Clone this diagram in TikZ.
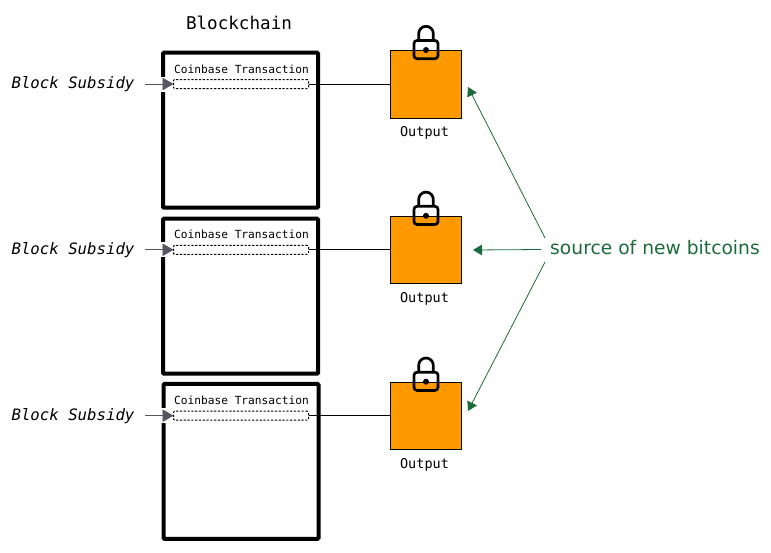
\documentclass[tikz,border=0pt]{standalone}
\usepackage{fontspec}
\setmainfont{DejaVu Sans}
\newfontfamily\monof{DejaVu Sans Mono}
\usetikzlibrary{arrows.meta}
\definecolor{srcgreen}{HTML}{1B6B3A}
\definecolor{outorange}{HTML}{FF9900}
\definecolor{tipgrey}{HTML}{555560}
\tikzset{
  x=1pt,y=-1pt,
  blockbox/.style={draw=black,line width=4pt,outer sep=0pt,rounded corners=1pt,minimum width=155pt,minimum height=155pt,inner sep=0pt,anchor=north west},
  txbox/.style={draw=black,line width=1pt,outer sep=0pt,dash pattern=on 2.2pt off 1.6pt,rounded corners=1pt,fill=white,minimum width=135pt,minimum height=9pt,inner sep=0pt,anchor=west},
  outbox/.style={draw=black,line width=1pt,outer sep=0pt,fill=outorange,minimum width=71pt,minimum height=67.5pt,inner sep=0pt,anchor=north west},
  captext/.style={inner sep=0pt,font=\monof\fontsize{11.2}{12}\selectfont},
  outlabel/.style={inner sep=0pt,font=\monof\fontsize{13.5}{14}\selectfont},
  subsidy/.style={inner sep=0pt,font=\monof\itshape\fontsize{15.7}{17}\selectfont},
  feed/.style={draw=tipgrey,line width=0.9pt,-{Triangle[length=11pt,width=12.5pt,fill=tipgrey]}},
  link/.style={draw=black,line width=1pt},
  srcarrow/.style={draw=srcgreen,line width=0.8pt,-{Triangle[length=9pt,width=10.5pt,fill=srcgreen]}},
  lockpart/.style={draw=black,line width=2.7pt},
}
\newcommand{\lockat}[2]{%
  \draw[lockpart] (#1-7.3,#2-10) -- (#1-7.3,#2-16.4) arc[start angle=180,end angle=0,x radius=7.3,y radius=-7.3] -- (#1+7.3,#2-10);
  \draw[lockpart,rounded corners=3pt] (#1-12,#2-9.5) rectangle (#1+12,#2+8.7);
  \fill[black] (#1,#2) circle[radius=3];
}
\begin{document}
\begin{tikzpicture}
\useasboundingbox (0,0) rectangle (771,552);
\node[inner sep=0pt,font=\monof\fontsize{17.6}{19}\selectfont] (title) at (239,23) {Blockchain};
\foreach \n/\y/\bx/\by in {a/0/163/52.7,b/165.8/163/218.7,c/331.7/163.5/383.9}{
  \node[blockbox] (block\n) at (\bx,\by) {};
  \node[captext] (cap\n) at (241.5,{69+\y}) {Coinbase Transaction};
  \fill[white] (\bx-3,{76.5+\y}) rectangle (\bx+3,{91.5+\y});
  \node[txbox] (tx\n) at (173.5,{84+\y}) {};
  \node[outbox] (out\n) at (390.5,{50.5+\y}) {};
  \node[outlabel] (lab\n) at (424.5,{133+\y}) {Output};
  \node[subsidy] (sub\n) at (73,{84+\y}) {Block Subsidy};
  \coordinate (in\n) at (145,{84+\y});
  \draw[feed] (in\n) -- (tx\n.west);
  \draw[link] (tx\n.east) -- (out\n.west |- tx\n.east);
  \lockat{426}{50+\y}
}
\node[inner sep=0pt,text=srcgreen,font=\fontsize{18.7}{21}\selectfont] (src) at (655,248) {source of new bitcoins};
\coordinate (sa) at (545,238);
\coordinate (sb) at (541,249.5);
\coordinate (sc) at (545,262);
\coordinate (ta) at (468,87);
\coordinate (tb) at (473,250);
\coordinate (tc) at (468,411);
\draw[srcarrow] (sa) -- (ta);
\draw[srcarrow] (sb) -- (tb);
\draw[srcarrow] (sc) -- (tc);
\end{tikzpicture}
\end{document}
